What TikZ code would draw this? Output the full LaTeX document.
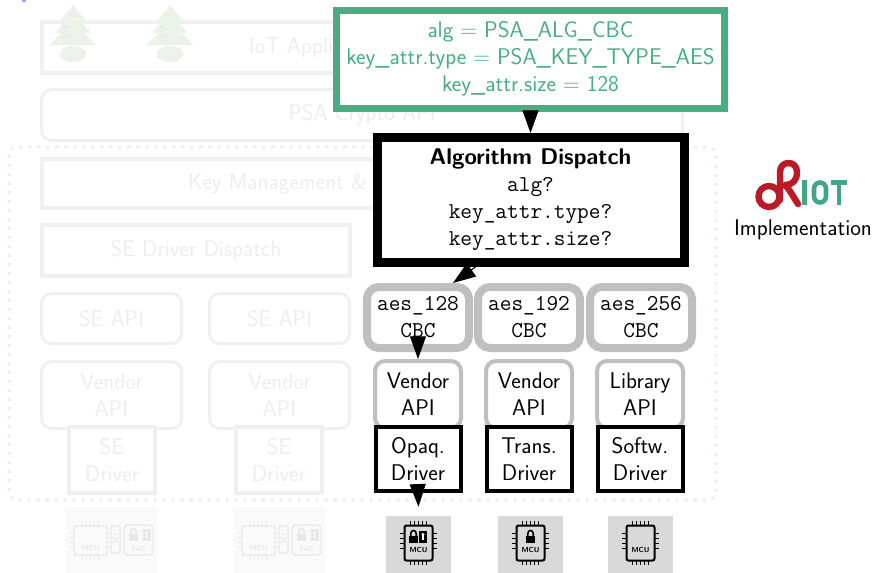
\documentclass[tikz,border=0pt]{standalone}
\usetikzlibrary{arrows.meta,calc}

\definecolor{psagreen}{RGB}{74,172,130}
\definecolor{chipgray}{RGB}{217,217,217}
\definecolor{boxgray}{RGB}{191,191,191}
\definecolor{fadeline}{RGB}{240,240,240}
\definecolor{fadetext}{RGB}{237,237,237}
\definecolor{dotcol}{RGB}{234,240,238}
\definecolor{riotred}{RGB}{188,26,41}
\definecolor{riotgreen}{RGB}{63,166,135}
\definecolor{treegreen}{RGB}{234,242,234}
\definecolor{potgray}{RGB}{238,240,236}

\begin{document}
\begin{tikzpicture}[x=0.75pt, y=-0.75pt,
  every node/.style={font=\sffamily\fontsize{17}{20.25}\selectfont, align=center, inner sep=0pt},
  fadesq/.style={draw=fadeline, line width=3pt, text=fadetext},
  faderound/.style={draw=fadeline, line width=2.25pt, rounded corners=7.5pt, text=fadetext},
  attrbox/.style={draw=psagreen, line width=5.25pt, text=psagreen, fill=white},
  dispbox/.style={draw=black, line width=6.75pt, fill=white},
  aesbox/.style={draw=boxgray, line width=6pt, rounded corners=9pt, fill=white,
    minimum width=76.5pt, minimum height=45.75pt},
  apibox/.style={draw=boxgray, line width=3pt, rounded corners=7.5pt, fill=white,
    minimum width=64.5pt, minimum height=50.25pt},
  drvbox/.style={draw=black, line width=3pt, fill=white,
    minimum width=63.75pt, minimum height=48pt},
  chipbg/.style={fill=chipgray, minimum width=48.75pt, minimum height=42.75pt},
  arr/.style={-{Triangle[length=17pt,width=12pt]}, line width=0.8pt},
  tinylabel/.style={font=\sffamily\bfseries\fontsize{5.5}{6}\selectfont},
  pics/lockicon/.style={code={
    \fill (-4.5,-1) rectangle (4.5,5.5);
    \draw[line width=1.2pt] (-2.7,-1) -- (-2.7,-3.5)
      .. controls (-2.7,-7.5) and (2.7,-7.5) .. (2.7,-3.5) -- (2.7,-1);
  }},
  pics/keycard/.style={code={
    \fill (-4,-6) rectangle (4,6);
    \fill[white] (0,-2) circle[radius=1.7];
    \fill[white] (-0.8,-2) rectangle (0.8,3);
  }},
  pics/mcu/.style={code={
    \draw[line width=1.5pt, rounded corners=1.5pt] (-14,-19) rectangle (14,16);
    \foreach \u in {-8,-4,0,4,8} {
      \draw[line width=0.9pt] (\u,-19) -- (\u,-23.5);
      \draw[line width=0.9pt] (\u,16) -- (\u,20.5);
    }
    \foreach \v in {-11,-6,-1,4} {
      \draw[line width=0.9pt] (-14,\v) -- (-18.5,\v);
      \draw[line width=0.9pt] (14,\v) -- (18.5,\v);
    }
    \node[tinylabel] at (0,5) {MCU};
  }},
  pics/sechip/.style={code={
    \fill[black!2] (-46,-32.5) rectangle (46,33);
    \begin{scope}[black!9]
      \draw[line width=1.1pt, rounded corners=1.5pt] (-37,-13.5) rectangle (-4,15.5);
      \foreach \u in {-28.5,-24.5,-20.5,-16.5,-12.5} {
        \draw[line width=0.8pt] (\u,-13.5) -- (\u,-18);
        \draw[line width=0.8pt] (\u,15.5) -- (\u,20);
      }
      \foreach \v in {-7,-2,3,8} {
        \draw[line width=0.8pt] (-37,\v) -- (-41,\v);
        \draw[line width=0.8pt] (-4,\v) -- (0,\v);
      }
      \node[tinylabel, text=black!9] at (-20.5,8) {MCU};
      \draw[line width=1.1pt, rounded corners=1.5pt] (0,-13.5) rectangle (9,13.5);
      \node[tinylabel, text=black!9, rotate=-90] at (4.5,0) {I2C};
      \draw[line width=1.1pt, rounded corners=2.5pt] (13,-14.5) rectangle (42,15.5);
      \pic at (22.5,-4.5) {lockicon};
      \pic at (35.5,-4.5) {keycard};
      \node[tinylabel, text=black!9] at (27.5,9) {SoC};
    \end{scope}
  }},
  pics/xtree/.style={code={
    \fill[treegreen] (0,0) -- (-13,16) -- (13,16) -- cycle;
    \fill[treegreen] (0,8) -- (-18,28) -- (18,28) -- cycle;
    \fill[treegreen] (0,17) -- (-23.5,40) -- (23.5,40) -- cycle;
    \fill[potgray] (0,49) ellipse [x radius=13.5, y radius=8];
    \foreach \p/\c in {(-3,10)/red!12, (4,14)/yellow!25, (-8,22)/blue!10,
      (6,24)/red!10, (-2,28)/green!15, (12,33)/blue!10, (-14,35)/yellow!22,
      (3,35)/red!10, (-6,31)/blue!9, (9,19)/green!13}
      \fill[\c] \p circle[radius=1.6];
  }}
]
\useasboundingbox (0,0) rectangle (877,572);

% tiny mark at the top edge
\fill[blue!35] (22,0) rectangle (26,2);

% faded software stack
\node[fadesq, minimum width=414pt, minimum height=38.25pt] (iot) at (318,47.5) {IoT Application};
\node[faderound, minimum width=480.75pt, minimum height=38.25pt] (psa) at (362,115) {PSA Crypto API};
\node[fadesq, minimum width=480pt, minimum height=36.75pt] (keymgmt) at (362,183.5) {Key Management \& Location Dispatch};
\node[fadesq, minimum width=231pt, minimum height=38.25pt] (sedisp) at (196,250.5) {SE Driver Dispatch};
\node[faderound, minimum width=105pt, minimum height=37.5pt] (seapiA) at (111.5,318.5) {SE API};
\node[faderound, minimum width=105pt, minimum height=37.5pt] (seapiB) at (279.5,318.5) {SE API};
\node[faderound, minimum width=105pt, minimum height=50.25pt] (venA) at (111.5,395) {Vendor\\API};
\node[faderound, minimum width=105pt, minimum height=50.25pt] (venB) at (279.5,395) {Vendor\\API};
\node[fadesq, fill=white, minimum width=64.5pt, minimum height=49.5pt] (sedrvA) at (112,460) {SE\\Driver};
\node[fadesq, fill=white, minimum width=64.5pt, minimum height=49.5pt] (sedrvB) at (279,460) {SE\\Driver};

% decorations
\pic at (73,5) {xtree};
\pic at (170,5) {xtree};

% dotted frame around the OS part
\draw[dotcol, line width=2.25pt, dash pattern=on 2.25pt off 4.5pt, rounded corners=6pt]
  (9,147) rectangle (716,500);

% faded secure element hardware
\pic at (111,539.5) {sechip};
\pic at (279,539.5) {sechip};

% highlighted dispatch path
\node[attrbox, minimum width=291pt, minimum height=73.5pt] (attrs) at (530.5,59)
  {alg $=$ PSA\_ALG\_CBC\\key\_attr.type $=$ PSA\_KEY\_TYPE\_AES\\key\_attr.size $=$ 128};
\node[dispbox, minimum width=230.25pt, minimum height=93.75pt] (dispatch) at (530.5,200)
  {\textbf{Algorithm Dispatch}\\\texttt{alg?}\\\texttt{key\_attr.type?}\\\texttt{key\_attr.size?}};

\node[aesbox] (aesA) at (418,317.5) {\texttt{aes\_128}\\\texttt{CBC}};
\node[aesbox] (aesB) at (529,317.5) {\texttt{aes\_192}\\\texttt{CBC}};
\node[aesbox] (aesC) at (641,317.5) {\texttt{aes\_256}\\\texttt{CBC}};

\node[apibox] (apiA) at (418,394.5) {Vendor\\API};
\node[apibox] (apiB) at (529,394.5) {Vendor\\API};
\node[apibox] (apiC) at (640,394.5) {Library\\API};

\node[drvbox] (drvA) at (418,459) {Opaq.\\Driver};
\node[drvbox] (drvB) at (529,459) {Trans.\\Driver};
\node[drvbox] (drvC) at (640,459) {Softw.\\Driver};

\node[chipbg] (chipA) at (418.5,544.5) {};
\node[chipbg] (chipB) at (530.5,544.5) {};
\node[chipbg] (chipC) at (640.5,544.5) {};

\pic at (chipA) {mcu};
\pic at ($(chipA)+(-5,-7.5)$) {lockicon};
\pic at ($(chipA)+(4.5,-8)$) {keycard};
\pic at (chipB) {mcu};
\pic at ($(chipB)+(0,-7.5)$) {lockicon};
\pic at (chipC) {mcu};

% connectors
\draw[arr] (attrs.south) -- (dispatch.north);
\draw[arr] ($(dispatch.south)+(-55,0)$) -- ($(aesA.north)+(35,0)$);
\draw[arr] (aesA.south) -- (apiA.north);
\draw[arr] (drvA.south) -- ($(chipA.north)+(0,-9)$);

% RIOT logo
\draw[riotred, line width=4.8pt] (769,196.5) circle[radius=10.5];
\draw[riotred, line width=4.8pt, line cap=round, line join=round]
  (780,200) -- (780,172) .. controls (780,160) and (797,160) .. (797,172)
  .. controls (797,181) and (792,185) .. (785,185)
  .. controls (790,190) and (794,198) .. (798,204);
\fill[riotgreen] (802,180) rectangle (806.7,205);
\draw[riotgreen, line width=3.4pt, rounded corners=4.5pt] (814,182.5) rectangle (826,202.5);
\fill[riotgreen] (831,180) rectangle (847,184.5);
\fill[riotgreen] (836.5,180) rectangle (841,205);
\node (impl) at (803,230) {Implementation};
\end{tikzpicture}
\end{document}
